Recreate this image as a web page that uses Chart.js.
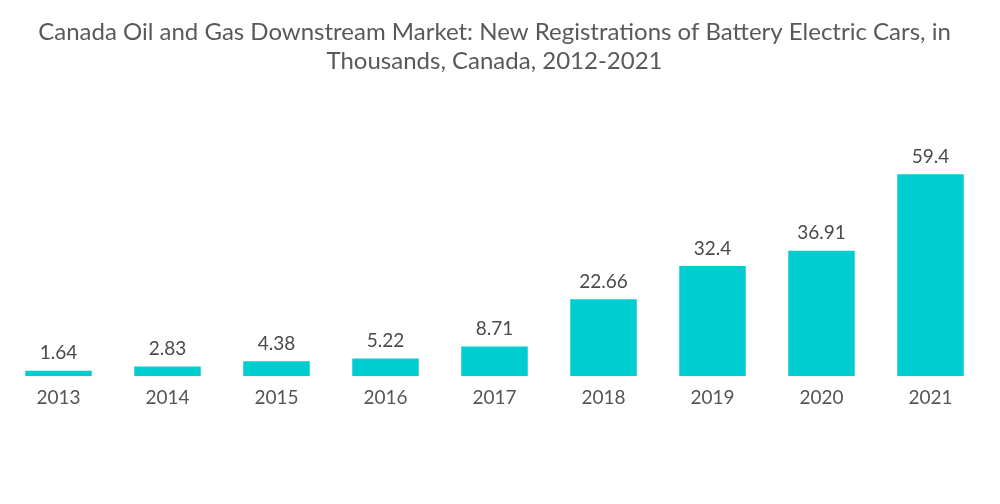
<!DOCTYPE html>
<html>
<head>
<meta charset="utf-8">
<script src="https://cdn.jsdelivr.net/npm/chart.js@4"></script>
<style>
  html, body { margin: 0; padding: 0; background: #fff; }
  #wrap { width: 1000px; height: 504px; }
</style>
</head>
<body>
<div id="wrap"><canvas id="chart"></canvas></div>
<script>
const years = ['2013', '2014', '2015', '2016', '2017', '2018', '2019', '2020', '2021'];
const registrations = [1.64, 2.83, 4.38, 5.22, 8.71, 22.66, 32.4, 36.91, 59.4];
const titleLines = [
  'Canada Oil and Gas Downstream Market: New Registrations of Battery Electric Cars, in',
  'Thousands, Canada, 2012-2021'
];

// values above the bars
const barLabels = {
  id: 'barLabels',
  afterDatasetsDraw(chart) {
    const ctx = chart.ctx;
    const meta = chart.getDatasetMeta(0);
    ctx.save();
    ctx.font = '19px Lato';
    ctx.fillStyle = '#4a4a4a';
    ctx.textAlign = 'center';
    ctx.textBaseline = 'bottom';
    meta.data.forEach((bar, i) => {
      ctx.fillText(String(registrations[i]), bar.x, bar.y - 8);
    });
    ctx.restore();
  }
};

const ctx = document.getElementById('chart');
new Chart(ctx, {
  type: 'bar',
  data: {
    labels: years,
    datasets: [{
      data: registrations,
      backgroundColor: '#00cdd0',
      barPercentage: 0.61,
      categoryPercentage: 1.0
    }]
  },
  options: {
    responsive: true,
    maintainAspectRatio: false,
    animation: false,
    layout: { padding: { left: 4, right: 15, top: 0, bottom: 85 } },
    plugins: {
      legend: { display: false },
      tooltip: { enabled: false },
      title: {
        display: true,
        text: titleLines,
        color: '#595959',
        font: { family: 'Lato', size: 24, weight: 'normal' },
        padding: { top: 18, bottom: 27 },
        lineHeight: 1.27
      }
    },
    scales: {
      x: {
        grid: { display: false, drawTicks: false },
        border: { display: false },
        ticks: { color: '#555', font: { family: 'Lato', size: 19 }, padding: 10 }
      },
      y: {
        display: false,
        min: 0,
        max: 80.5
      }
    }
  },
  plugins: [barLabels]
});
</script>
</body>
</html>
